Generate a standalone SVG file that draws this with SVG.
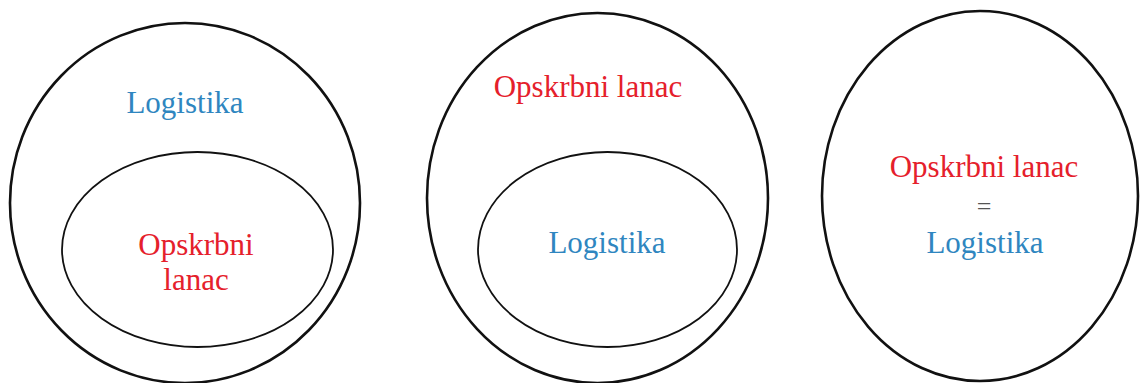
<svg xmlns="http://www.w3.org/2000/svg" width="1140" height="383" viewBox="0 0 1140 383">
<style>
.o{fill:none;stroke:#111;stroke-width:2.6}
.i{fill:none;stroke:#111;stroke-width:1.8}
text{font-family:"Liberation Serif","Times New Roman",serif;font-size:31px;text-anchor:middle}
.r{fill:#e5202b}
.b{fill:#2f86c0}
.k{fill:#555}
</style>
<rect width="1140" height="383" fill="#fff"/>
<g id="panel1">
<ellipse class="o" cx="185" cy="203" rx="175" ry="180"/>
<ellipse class="i" cx="197.5" cy="249.5" rx="135.5" ry="97.5"/>
<text class="b" x="185" y="113">Logistika</text>
<text class="r" x="196" y="255">Opskrbni</text>
<text class="r" x="196" y="290">lanac</text>
</g>
<g id="panel2">
<ellipse class="o" cx="597.5" cy="198" rx="170.5" ry="185"/>
<ellipse class="i" cx="607.5" cy="249.5" rx="129.5" ry="97.5"/>
<text class="r" x="588" y="97">Opskrbni lanac</text>
<text class="b" x="607" y="253">Logistika</text>
</g>
<g id="panel3">
<ellipse class="o" cx="980" cy="196" rx="158" ry="185"/>
<text class="r" x="984" y="177">Opskrbni lanac</text>
<text class="k" x="984" y="215" style="font-size:26px">=</text>
<text class="b" x="985" y="253">Logistika</text>
</g>
<g id="connectors"/>
</svg>
